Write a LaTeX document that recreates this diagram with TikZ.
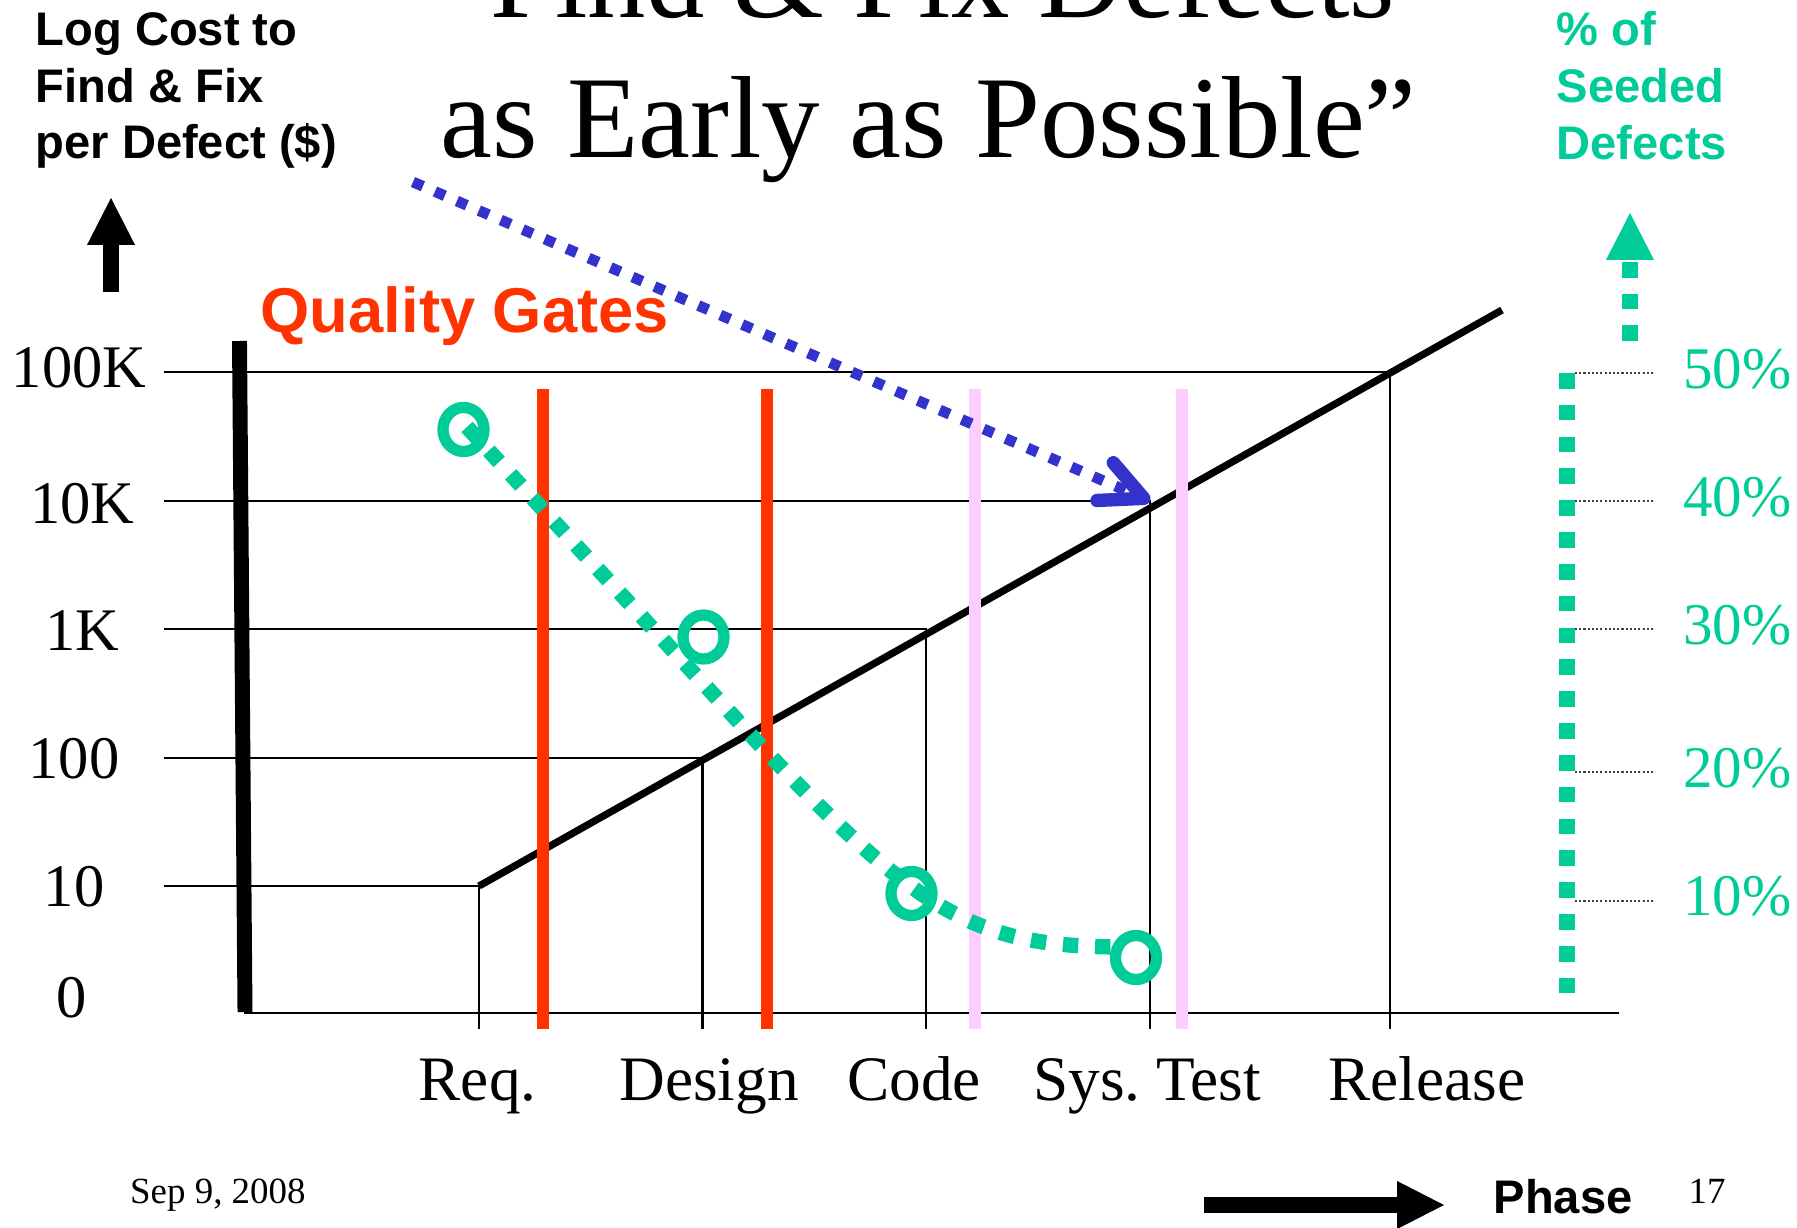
\documentclass[tikz,border=0pt]{standalone}
\usepackage{fontspec}
\setmainfont{Liberation Serif}
\setsansfont{Liberation Sans}
\usetikzlibrary{arrows.meta,shapes.geometric}
\definecolor{seed}{HTML}{00CC99}
\definecolor{gatered}{HTML}{FF3300}
\definecolor{gatepink}{HTML}{FFCCFF}
\definecolor{hintblue}{HTML}{3333CC}

\begin{document}
\begin{tikzpicture}[x=0.01cm,y=-0.01cm,
    thin line/.style={line width=0.65pt},
    gate/.style={line width=3.4pt},
    ring/.style={draw=seed,line width=3.2pt,ellipse,minimum width=0.41cm,minimum height=0.44cm,inner sep=0pt},
    tick/.style={font=\fontsize{17.2}{20}\selectfont,inner sep=0pt},
    pct/.style={font=\fontsize{16.8}{20}\selectfont,text=seed,anchor=east,inner sep=0pt},
    phase/.style={font=\fontsize{18}{21}\selectfont,anchor=base,inner sep=0pt},
    head/.style={font=\sffamily\bfseries\fontsize{13.4}{16}\selectfont,anchor=base west,inner sep=0pt},
    fat/.style={line width=4.5pt,-{Triangle[length=13.3pt,width=13.6pt,line width=0pt]}}]
  \useasboundingbox(0,0)rectangle(1797,1227);
  \path[fill=white](0,0)rectangle(1797,1227);
  %タイトル
  \node[anchor=base east,inner sep=0pt,font=\fontsize{33.2}{40}\selectfont](title1)at(1396,18){“Find \& Fix Defects};
  \node[anchor=base west,inner sep=0pt,font=\fontsize{33.2}{40}\selectfont](title2)at(440,157){as Early as Possible”};
  %目盛り線と各工程
  \coordinate(R)at(479,886);
  \coordinate(D)at(702.5,758);
  \coordinate(C)at(926,629);
  \coordinate(S)at(1150,501);
  \coordinate(E)at(1390,372);
  \coordinate(T)at(1502,310);
  \path[draw,thin line](164,886)to(R)to(479,1029);
  \path[draw,thin line](164,758)to(D)to(702.5,1029);
  \path[draw,thin line](164,629)to(C)to(926,1029);
  \path[draw,thin line](164,501)to(S)to(1150,1029);
  \path[draw,thin line](164,372)to(E)to(1390,1029);
  \path[draw,thin line](244,1013)to(1619,1013);
  %コスト
  \path[draw,line width=2.05pt](R)to(T);
  %ゲート
  \path[draw,gate,gatered](543,389)to(543,1029);
  \path[draw,gate,gatered](767,389)to(767,1029);
  \path[draw,gate,gatepink](975,389)to(975,1029);
  \path[draw,gate,gatepink](1182,389)to(1182,1029);
  %縦軸
  \path[draw,line width=4.25pt](239.5,341)to(245,1012);
  \path[draw,fat](111,292)to(111,198);
  \node[tick](t5)at(79,368){100K};
  \node[tick](t4)at(82.5,504){10K};
  \node[tick](t3)at(82.5,631){1K};
  \node[tick](t2)at(74,758.5){100};
  \node[tick](t1)at(74,887){10};
  \node[tick](t0)at(72,998){0};
  \node[head](cost1)at(35,45){Log Cost to};
  \node[head](cost2)at(35,102){Find \& Fix};
  \node[head](cost3)at(35,158){per Defect (\$)};
  %欠陥の割合
  \node[ring](q1)at(463.5,429.5){};
  \node[ring](q2)at(703.5,637){};
  \node[ring](q3)at(911.5,893.5){};
  \node[ring](q4)at(1136,957.5){};
  \path[draw,seed,line width=4.35pt,dash pattern=on 4.35pt off 4.8pt](467,427)to(760,745)
    .. controls (923,917) and (978,947) .. (1125,947);
  %矢印
  \path[draw,hintblue,line width=3.06pt,dash pattern=on 3.06pt off 3.74pt,
    -{Straight Barb[length=12pt,width=11.7pt,line width=3.8pt,round]}](413,182)to(S);
  \node[anchor=base west,inner sep=0pt,text=gatered,font=\sffamily\bfseries\fontsize{18}{21}\selectfont](gates)at(260,332){Quality Gates};
  %右の軸
  \path[draw,seed,line width=4.5pt,dash pattern=on 4.45pt off 4.6pt](1567,373)to(1567,996);
  \path[draw,fat,seed,dash pattern=on 4.5pt off 4.5pt](1630,341)to(1630,213);
  \path[draw,black!75,line width=0.5pt,dash pattern=on 0.6pt off 0.6pt](1575,373)to(1653,373);
  \path[draw,black!75,line width=0.5pt,dash pattern=on 0.6pt off 0.6pt](1575,501)to(1653,501);
  \path[draw,black!75,line width=0.5pt,dash pattern=on 0.6pt off 0.6pt](1575,629)to(1653,629);
  \path[draw,black!75,line width=0.5pt,dash pattern=on 0.6pt off 0.6pt](1575,772)to(1653,772);
  \path[draw,black!75,line width=0.5pt,dash pattern=on 0.6pt off 0.6pt](1575,901)to(1653,901);
  \node[pct](p5)at(1792,369){50\%};
  \node[pct](p4)at(1792,497){40\%};
  \node[pct](p3)at(1792,625){30\%};
  \node[pct](p2)at(1792,768){20\%};
  \node[pct](p1)at(1792,896){10\%};
  \node[head,text=seed](seed1)at(1556,45){\% of};
  \node[head,text=seed](seed2)at(1556,102.5){Seeded};
  \node[head,text=seed](seed3)at(1556,159){Defects};
  %工程
  \node[phase](req)at(477.6,1100){Req.};
  \node[phase](design)at(709,1100){Design};
  \node[phase](code)at(914,1100){Code};
  \node[phase](systest)at(1147,1100){Sys.\ Test};
  \node[phase](release)at(1427,1100){Release};
  \path[draw,fat](1204,1205)to(1444,1205);
  \node[head](phasel)at(1493,1213){Phase};
  \node[anchor=base west,inner sep=0pt,font=\fontsize{10.5}{12}\selectfont](date)at(129.5,1203){Sep 9, 2008};
  \node[anchor=base west,inner sep=0pt,font=\fontsize{10.5}{12}\selectfont](page)at(1688,1203){17};
\end{tikzpicture}
\end{document}
